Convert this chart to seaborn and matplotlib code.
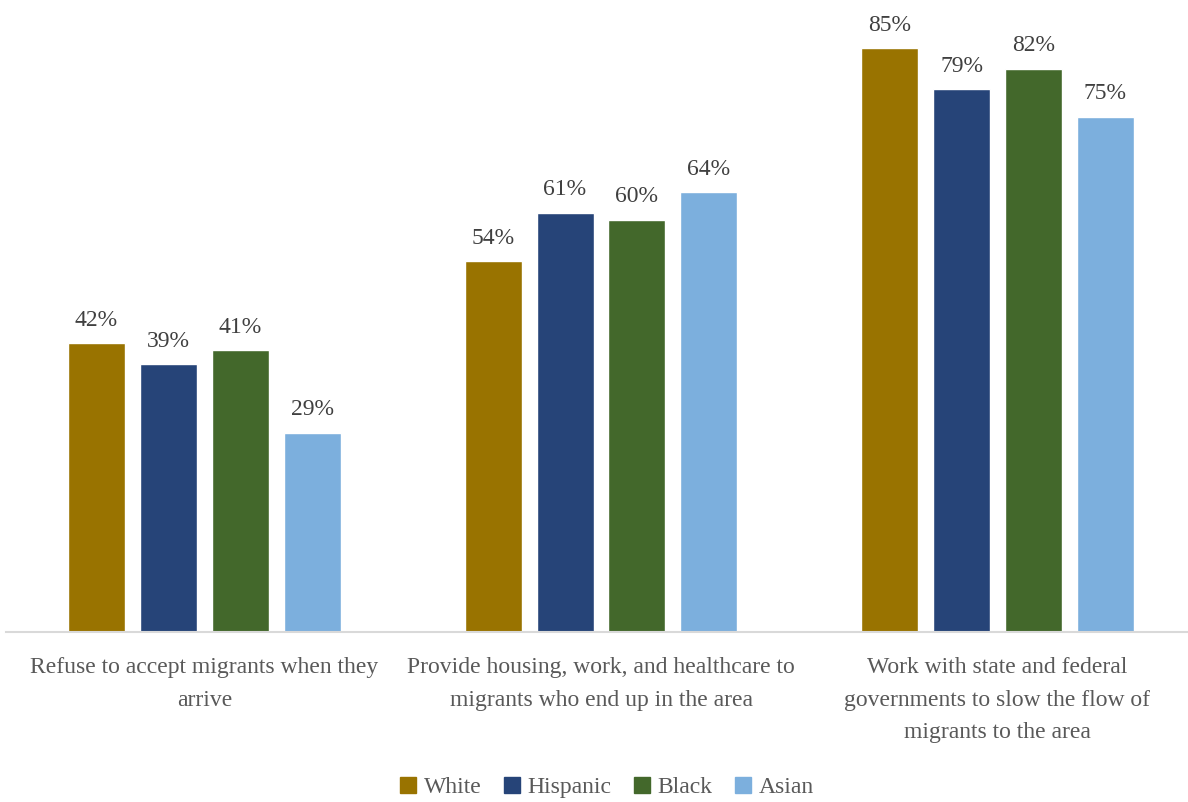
import matplotlib
matplotlib.use("Agg")
import matplotlib.pyplot as plt
import seaborn as sns
import pandas as pd
from matplotlib.lines import Line2D

categories = [
    "Refuse to accept migrants when they\narrive",
    "Provide housing, work, and healthcare to\nmigrants who end up in the area",
    "Work with state and federal\ngovernments to slow the flow of\nmigrants to the area",
]
groups = ["White", "Hispanic", "Black", "Asian"]
white = [42, 54, 85]
hispanic = [39, 61, 79]
black = [41, 60, 82]
asian = [29, 64, 75]
colors = ["#997300", "#264478", "#43682B", "#7CAFDD"]

rows = []
for g, vals in zip(groups, [white, hispanic, black, asian]):
    for c, v in zip(categories, vals):
        rows.append({"category": c, "group": g, "value": v})
df = pd.DataFrame(rows)

sns.set_theme(style="white")
plt.rcParams["font.family"] = ["Liberation Serif", "DejaVu Serif"]

W, H = 1188, 802
fig = plt.figure(figsize=(W / 100, H / 100), dpi=100)
unit = 396.5
left = 204.5 - unit / 2
bottom = 632
ppu = 6.87
ymax = 90
top = bottom - ymax * ppu
ax = fig.add_axes([left / W, (H - bottom) / H, 3 * unit / W, (bottom - top) / H])

sns.barplot(data=df, x="category", y="value", hue="group", palette=colors,
            hue_order=groups, order=categories, width=0.726, gap=0.208,
            saturation=1, ax=ax, legend=False)
ax.set_xlim(-0.5, 2.5)
ax.set_ylim(0, ymax)

for cont in ax.containers:
    ax.bar_label(cont, labels=[f"{int(v)}%" for v in cont.datavalues],
                 padding=9, fontsize=17, color="#404040")

for s in ["top", "right", "left"]:
    ax.spines[s].set_visible(False)
ax.spines["bottom"].set_color("#d9d9d9")
ax.spines["bottom"].set_linewidth(1.5)
ax.set_yticks([])
ax.set_xlabel("")
ax.set_ylabel("")
ax.tick_params(axis="x", length=0, pad=18, labelsize=17, labelcolor="#595959")
for lbl in ax.get_xticklabels():
    lbl.set_linespacing(1.73)
    lbl.set_verticalalignment("top")

handles = [Line2D([0], [0], marker="s", linestyle="none", markersize=11,
                  markerfacecolor=c, markeredgecolor=c) for c in colors]
fig.legend(handles, groups, loc="center", bbox_to_anchor=(605 / W, 1 - 787 / H),
           ncol=4, frameon=False, fontsize=17, labelcolor="#595959",
           handletextpad=0.15, columnspacing=0.8, handlelength=1.0)

fig.savefig("out.png", dpi=100)
